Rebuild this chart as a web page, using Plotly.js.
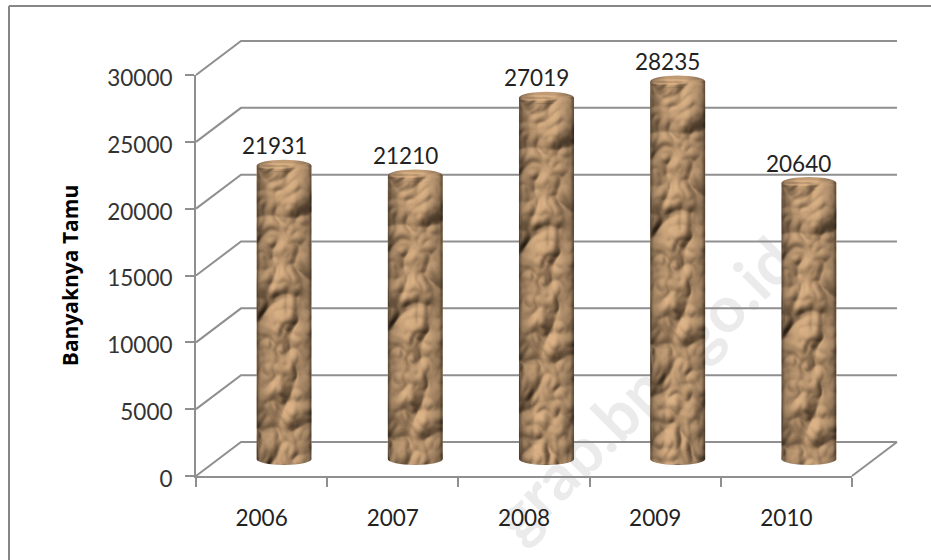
<!DOCTYPE html>
<html>
<head>
<meta charset="utf-8">
<script src="https://cdn.plot.ly/plotly-3.0.1.min.js"></script>
<style>html,body{margin:0;padding:0;background:#fff}#chart{width:931px;height:560px}</style>
</head>
<body>
<svg width="0" height="0" style="position:absolute"><defs id="paperDefs"></defs></svg>
<div id="chart"></div>
<script>
// Annual guest counts
const years = ['2006', '2007', '2008', '2009', '2010'];
const guests = [21931, 21210, 27019, 28235, 20640];
const valueTicks = [0, 5000, 10000, 15000, 20000, 25000, 30000];

const W = 931, H = 560;
const FONT = 'Lato, "Open Sans", sans-serif';
const GRID = '#8f8f8f';
const VALUE_MAX = 30000;

// Pixel boxes of the pseudo-3D plot: front plane, depth and cylinder plane
const front = {l: 196, r: 852, b: 476, t: 75};
const depth = {x: 45, y: 34};
const mid = {
  l: front.l + depth.x / 2, r: front.r + depth.x / 2,
  b: front.b - depth.y / 2, t: front.t - depth.y / 2
};

const pxX = p => [p.l / W, p.r / W];
const pxY = p => [1 - p.b / H, 1 - p.t / H];
const catRange = [-0.5, years.length - 0.5];
const unitsPerPx = VALUE_MAX / (front.b - front.t);
const catsPerPx = years.length / (front.r - front.l);
const dx = depth.x * catsPerPx, dy = depth.y * unitsPerPx;

const capHalf = 6 * unitsPerPx;   // half height of a cylinder's elliptical cap
const barWidth = 0.42;
const footRoom = 10;              // pixels kept under the cylinder plane for the lower caps
const shellPad = 3;               // pixels around the shell so its outer lines are not clipped

// Back-wall gridlines plus the edges running from the front plane to the wall
const shellX = [], shellY = [];
valueTicks.forEach(v => {
  shellX.push(-0.5, -0.5 + dx, 4.5 + dx, null);
  shellY.push(v, v + dy, v + dy, null);
});
shellX.push(4.5, 4.5 + dx);
shellY.push(0, dy);

const traces = [
  {type: 'scatter', mode: 'lines', x: shellX, y: shellY, xaxis: 'x', yaxis: 'y',
   hoverinfo: 'skip', showlegend: false, line: {color: GRID, width: 2}},
  {type: 'bar', x: years, y: guests, xaxis: 'x2', yaxis: 'y2', width: barWidth,
   marker: {color: '#b89468', line: {width: 0}}, showlegend: false},
  // Invisible carrier that brings the front axes into the plot
  {type: 'scatter', mode: 'none', x: years, y: guests, xaxis: 'x3', yaxis: 'y3',
   hoverinfo: 'skip', showlegend: false}
];

const frameLines = [
  {type: 'line', xref: 'paper', yref: 'paper', x0: 9 / W, x1: 9 / W, y0: 0, y1: 1 - 6 / H,
   line: {color: '#868686', width: 2}},
  {type: 'line', xref: 'paper', yref: 'paper', x0: 9 / W, x1: 1, y0: 1 - 6 / H, y1: 1 - 6 / H,
   line: {color: '#868686', width: 2}}
];

// Elliptical caps at the top and the foot of every cylinder
const caps = [];
years.forEach((yr, i) => {
  [0, guests[i]].forEach(level => caps.push({
    type: 'circle', layer: 'above', xref: 'x2', yref: 'y2',
    x0: i - barWidth / 2, x1: i + barWidth / 2,
    y0: level - capHalf, y1: level + capHalf,
    fillcolor: '#b89468', line: {width: 0}
  }));
});

const valueLabels = years.map((yr, i) => ({
  xref: 'x2', yref: 'y2', x: i, y: guests[i], text: String(guests[i]),
  showarrow: false, xshift: -10, yshift: 20,
  font: {family: FONT, size: 22.5, color: '#222'}
}));

const watermark = {
  xref: 'paper', yref: 'paper', x: 642 / W, y: 1 - 388 / H,
  xanchor: 'center', yanchor: 'middle',
  text: 'grab.bps.go.id', showarrow: false, textangle: -45,
  font: {family: FONT, size: 64, color: '#ebebeb', weight: 700}
};

const hidden = {showgrid: false, showticklabels: false, zeroline: false, showline: false, ticks: ''};

const layout = {
  width: W, height: H, margin: {l: 0, r: 0, t: 0, b: 0},
  paper_bgcolor: '#fff', plot_bgcolor: 'rgba(0,0,0,0)',
  showlegend: false, hovermode: false,
  shapes: frameLines.concat(caps),
  annotations: [watermark].concat(valueLabels),
  // Shell holding the back wall and the depth edges
  xaxis: Object.assign({}, hidden, {
    domain: pxX({l: front.l - shellPad, r: front.r + depth.x + shellPad}), anchor: 'y', type: 'linear',
    range: [-0.5 - shellPad * catsPerPx, 4.5 + dx + shellPad * catsPerPx]}),
  yaxis: Object.assign({}, hidden, {
    domain: pxY({b: front.b + shellPad, t: front.t - depth.y - shellPad}), anchor: 'x',
    range: [-shellPad * unitsPerPx, VALUE_MAX + dy + shellPad * unitsPerPx]}),
  // Plane on which the cylinders stand
  xaxis2: Object.assign({}, hidden, {domain: pxX(mid), anchor: 'y2', type: 'category', range: catRange}),
  yaxis2: Object.assign({}, hidden, {domain: pxY({b: mid.b + footRoom, t: mid.t}), anchor: 'x2',
    range: [-footRoom * unitsPerPx, VALUE_MAX]}),
  // Front plane with the visible axes
  xaxis3: {domain: pxX(front), anchor: 'y3', type: 'category', range: catRange,
    showgrid: false, zeroline: false, showline: true, linecolor: GRID, linewidth: 2,
    ticks: 'outside', ticklen: 9, tickcolor: GRID, tickwidth: 2, tickson: 'boundaries',
    ticklabelstandoff: 21, tickfont: {family: FONT, size: 22.5, color: '#222'}},
  yaxis3: {domain: pxY(front), anchor: 'x3', range: [0, VALUE_MAX],
    tickmode: 'array', tickvals: valueTicks, ticktext: valueTicks.map(String),
    showgrid: false, zeroline: false, showline: true, linecolor: GRID, linewidth: 2,
    ticks: 'outside', ticklen: 9, tickcolor: GRID, tickwidth: 2,
    ticklabelstandoff: 8, tickfont: {family: FONT, size: 22.5, color: '#333'},
    title: {text: '<b>Banyaknya Tamu</b>', standoff: 23,
            font: {family: '"Open Sans", sans-serif', size: 21, color: '#000'}}}
};

// Horizontal shading across a cylinder, used as a multiply layer
const shade = light => {
  const stops = [[0, 0.45], [0.07, 0.76], [0.3, 1.0 + light], [0.65, 1.0 + light], [0.93, 0.76], [1, 0.42]]
    .map(([o, v]) => {
      const c = Math.min(255, Math.round(v * 235));
      return `<stop offset="${o}" stop-color="rgb(${c},${c},${c})"/>`;
    }).join('');
  const svg = `<svg xmlns="http://www.w3.org/2000/svg" width="100" height="100" preserveAspectRatio="none">` +
    `<defs><linearGradient id="g">${stops}</linearGradient></defs>` +
    `<rect width="100" height="100" fill="url(#g)"/></svg>`;
  return 'data:image/svg+xml;base64,' + btoa(svg);
};

// Crumpled-paper surface: lit ridged noise anchored at (ox, oy), tinted and shaded
const paperFilter = (id, box, ox, oy, light) => {
  const regionW = Math.ceil(box.x + box.width + 2), regionH = Math.ceil(box.y + box.height + 2);
  return `
  <filter id="${id}" filterUnits="userSpaceOnUse" x="0" y="0" width="${regionW}" height="${regionH}"
          color-interpolation-filters="sRGB">
    <feTurbulence type="turbulence" baseFrequency="0.024 0.019" numOctaves="3" seed="23" result="noise"/>
    <feOffset in="noise" dx="${ox}" dy="${oy}" result="moved"/>
    <feGaussianBlur in="moved" stdDeviation="0.8" result="smooth"/>
    <feDiffuseLighting in="smooth" surfaceScale="7" diffuseConstant="1.08" lighting-color="#e2c5a0" result="lit">
      <feDistantLight azimuth="235" elevation="56"/>
    </feDiffuseLighting>
    <feColorMatrix in="lit" type="matrix"
      values="1 0 0 0 -0.02  0 0.96 0 0 -0.04  0 0 0.92 0 -0.05  0 0 0 1 0" result="tan"/>
    <feImage href="${shade(light)}" x="${box.x}" y="${box.y}" width="${box.width}" height="${box.height}"
             preserveAspectRatio="none" result="rim"/>
    <feBlend in="tan" in2="rim" mode="multiply" result="shaded"/>
    <feGaussianBlur in="shaded" stdDeviation="0.6" result="soft"/>
    <feComposite in="soft" in2="SourceAlpha" operator="in"/>
  </filter>`;
};

Plotly.newPlot('chart', traces, layout, {displayModeBar: false, staticPlot: true}).then(gd => {
  const defs = document.getElementById('paperDefs');
  const bars = Array.from(gd.querySelectorAll('.barlayer .point path'));
  const capPaths = Array.from(gd.querySelectorAll('.layer-above .shapelayer path'))
    .filter(p => Number(p.getAttribute('data-index')) >= frameLines.length);
  let markup = '';
  const boxes = bars.map(p => p.getBBox());
  boxes.forEach((b, i) => { markup += paperFilter('paperBar' + i, b, b.x, b.y, 0); });
  capPaths.forEach((p, k) => {
    const b = p.getBBox();
    const i = Math.floor(k / 2);
    const foot = k % 2 === 0;
    const oy = foot ? b.y + 6 - boxes[i].height : b.y + 6;
    markup += paperFilter('paperCap' + k, b, b.x, oy, foot ? 0 : 0.06);
  });
  defs.innerHTML = markup;
  bars.forEach((p, i) => p.setAttribute('filter', `url(#paperBar${i})`));
  capPaths.forEach((p, k) => p.setAttribute('filter', `url(#paperCap${k})`));

  // The diagonal site mark sits behind gridlines and cylinders
  const mark = gd.querySelector('.infolayer .annotation[data-index="0"]');
  const cartesian = gd.querySelector('.cartesianlayer');
  if (mark && cartesian) cartesian.parentNode.insertBefore(mark, cartesian);

  // Value tick labels sit slightly below their tick marks
  gd.querySelectorAll('.y3tick text').forEach(t => {
    t.setAttribute('transform', (t.getAttribute('transform') || '') + ' translate(0,3)');
  });
});
</script>
</body>
</html>
